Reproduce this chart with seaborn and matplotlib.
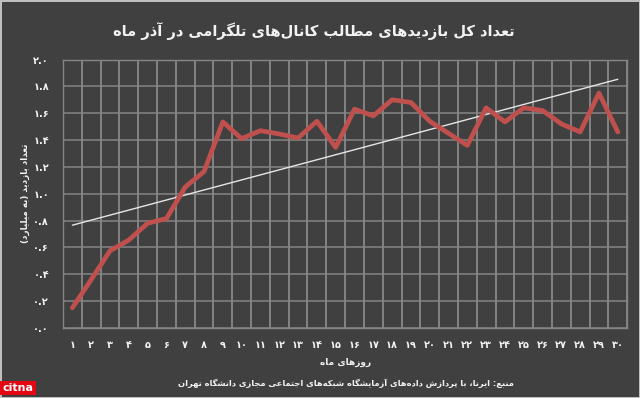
import matplotlib
matplotlib.use("Agg")
import matplotlib.pyplot as plt
import seaborn as sns
import numpy as np
import pandas as pd

# ---------------- data ----------------
days = list(range(1, 31))
views = [0.15, 0.36, 0.575, 0.655, 0.78, 0.815, 1.05, 1.165, 1.535, 1.41,
         1.47, 1.445, 1.415, 1.54, 1.345, 1.63, 1.58, 1.70, 1.68, 1.54,
         1.45, 1.36, 1.64, 1.535, 1.64, 1.62, 1.52, 1.46, 1.75, 1.46]
y_ticks = [0.0, 0.2, 0.4, 0.6, 0.8, 1.0, 1.2, 1.4, 1.6, 1.8, 2.0]

title_text = "تعداد کل بازدیدهای مطالب کانال‌های تلگرامی در آذر ماه"
ylabel_text = "تعداد بازدید (به میلیارد)"
xlabel_text = "روزهای ماه"
source_text = "منبع: ایرنا، با پردازش داده‌های آزمایشگاه شبکه‌های اجتماعی مجازی دانشگاه تهران"

# ---------------- simple Arabic/Persian shaping ----------------
FORMS = {
    '\u0627': ('\uFE8D', '\uFE8E', None, None),
    '\u0622': ('\uFE81', '\uFE82', None, None),
    '\u0628': ('\uFE8F', '\uFE90', '\uFE91', '\uFE92'),
    '\u062A': ('\uFE95', '\uFE96', '\uFE97', '\uFE98'),
    '\u062C': ('\uFE9D', '\uFE9E', '\uFE9F', '\uFEA0'),
    '\u062F': ('\uFEA9', '\uFEAA', None, None),
    '\u0630': ('\uFEAB', '\uFEAC', None, None),
    '\u0631': ('\uFEAD', '\uFEAE', None, None),
    '\u0632': ('\uFEAF', '\uFEB0', None, None),
    '\u0634': ('\uFEB5', '\uFEB6', '\uFEB7', '\uFEB8'),
    '\u0637': ('\uFEC1', '\uFEC2', '\uFEC3', '\uFEC4'),
    '\u0639': ('\uFEC9', '\uFECA', '\uFECB', '\uFECC'),
    '\u0644': ('\uFEDD', '\uFEDE', '\uFEDF', '\uFEE0'),
    '\u0645': ('\uFEE1', '\uFEE2', '\uFEE3', '\uFEE4'),
    '\u0646': ('\uFEE5', '\uFEE6', '\uFEE7', '\uFEE8'),
    '\u0647': ('\uFEE9', '\uFEEA', '\uFEEB', '\uFEEC'),
    '\u0648': ('\uFEED', '\uFEEE', None, None),
    '\u067E': ('\uFB56', '\uFB57', '\uFB58', '\uFB59'),
    '\u06A9': ('\uFB8E', '\uFB8F', '\uFB90', '\uFB91'),
    '\u06AF': ('\uFB92', '\uFB93', '\uFB94', '\uFB95'),
    '\u06CC': ('\uFBFC', '\uFBFD', '\uFBFE', '\uFBFF'),
}
LAM_ALEF = {'\u0627': ('\uFEFB', '\uFEFC'), '\u0622': ('\uFEF5', '\uFEF6')}


def shape(text):
    chars = list(text)
    out = []
    i = 0
    n = len(chars)
    while i < n:
        c = chars[i]
        if c == '\u200c':
            i += 1
            continue
        if c not in FORMS:
            out.append(c)
            i += 1
            continue
        prev = chars[i - 1] if i > 0 else ''
        prev_joins = prev in FORMS and FORMS[prev][2] is not None
        if c == '\u0644' and i + 1 < n and chars[i + 1] in LAM_ALEF:
            lig = LAM_ALEF[chars[i + 1]]
            out.append(lig[1] if prev_joins else lig[0])
            i += 2
            continue
        nxt = chars[i + 1] if i + 1 < n else ''
        dual = FORMS[c][2] is not None
        next_joins = dual and nxt in FORMS
        iso, fin, ini, med = FORMS[c]
        if prev_joins and next_joins:
            out.append(med)
        elif prev_joins:
            out.append(fin)
        elif next_joins:
            out.append(ini)
        else:
            out.append(iso)
        i += 1
    vis = ''.join(reversed(out))
    vis = vis.replace('(', '\0').replace(')', '(').replace('\0', ')')
    return vis


PERSIAN_DIGITS = str.maketrans('0123456789', '۰۱۲۳۴۵۶۷۸۹')


def fa(s):
    return str(s).translate(PERSIAN_DIGITS)


# ---------------- style ----------------
BG = '#404040'
GRID = '#858585'
TXT = '#f2f2f2'
RED = '#c0504d'

sns.set_theme(style="dark")
plt.rcParams['font.family'] = ['DejaVu Sans']

df = pd.DataFrame({'day': days, 'views': views})

fig = plt.figure(figsize=(6.4, 3.98), dpi=100, facecolor=BG)
fig.patch.set_edgecolor('#bfbfbf')
fig.patch.set_linewidth(1.0)
ax = fig.add_axes([0.0984, 0.176, 0.8816, 0.6745])
ax.set_facecolor(BG)

sns.regplot(data=df, x='day', y='views', scatter=False, ci=None, ax=ax,
            line_kws=dict(color='#e6e6e6', linewidth=1.0, zorder=3))
sns.lineplot(data=df, x='day', y='views', ax=ax, color=RED, linewidth=3.4,
             zorder=4)

ax.set_xlim(0.5, 30.5)
ax.set_ylim(0, 2.0)

# vertical grid lines at category boundaries (Excel style)
boundaries = np.arange(min(days) - 0.5, max(days) + 1.0, 1.0)
for b in boundaries:
    ax.axvline(b, color=GRID, linewidth=1.1, zorder=2, solid_capstyle='butt')

ax.set_xticks(boundaries)
ax.set_xticklabels([''] * len(boundaries))
ax.set_xticks(days, minor=True)
ax.set_xticklabels([fa(d) for d in days], minor=True, color=TXT, fontsize=7,
                   fontweight='bold')
ax.set_yticks(y_ticks)
ax.set_yticklabels([fa(f"{v:.1f}") for v in y_ticks], color=TXT, fontsize=7,
                   fontweight='bold')

ax.grid(True, which='major', axis='both', color=GRID, linewidth=1.1)
ax.tick_params(axis='x', which='minor', length=0, pad=9)
ax.tick_params(axis='x', which='major', length=3, color=GRID, width=1)
ax.tick_params(axis='y', which='major', length=3, color=GRID, width=1, pad=7)
for side, sp in ax.spines.items():
    sp.set_visible(True)
    sp.set_color(GRID)
    sp.set_linewidth(1)

ax.set_xlabel(shape(xlabel_text), color=TXT, fontsize=6.5, fontweight='bold',
              labelpad=5)
ax.set_ylabel(shape(ylabel_text), color=TXT, fontsize=6.3, fontweight='bold')
ax.yaxis.set_label_coords(-0.058, 0.5)

fig.text(0.49, 0.923, shape(title_text), color=TXT, fontsize=10.5,
         fontweight='bold', ha='center', va='center')
fig.text(0.54, 0.037, shape(source_text), color=TXT, fontsize=6.0,
         fontweight='bold', ha='center', va='center')
fig.text(0.004, 0.012, 'citna', color='white', fontsize=8, fontweight='bold',
         ha='left', va='bottom',
         bbox=dict(boxstyle='square,pad=0.2', facecolor='#e30613',
                   edgecolor='none'))

fig.savefig('out.png', dpi=100, facecolor=BG, edgecolor=fig.get_edgecolor())
